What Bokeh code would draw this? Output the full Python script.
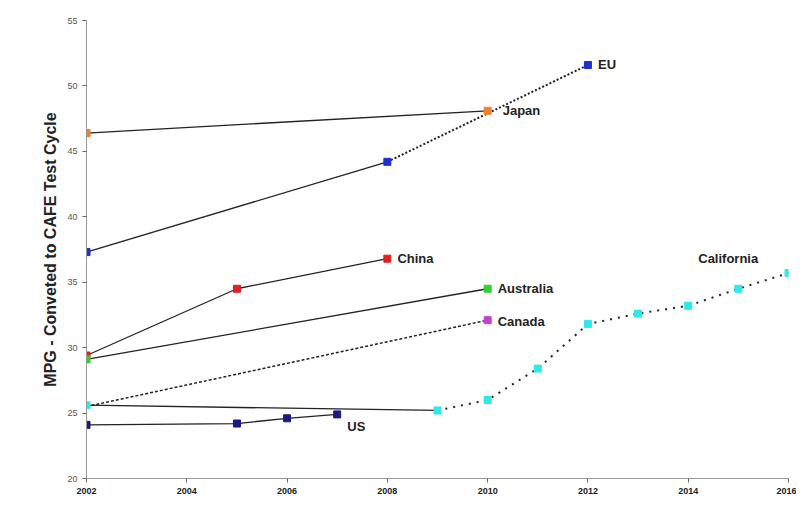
from bokeh.plotting import figure
from bokeh.models import Range1d, FixedTicker
from bokeh.core.properties import value
from bokeh.embed import file_html
from bokeh.resources import INLINE

jp_x = [2002, 2010]; jp_y = [46.4, 48.1]
eu_x = [2002, 2008]; eu_y = [37.3, 44.2]
eu_fx = [2008, 2012]; eu_fy = [44.2, 51.6]
cn_x = [2002, 2005, 2008]; cn_y = [29.4, 34.5, 36.8]
au_x = [2002, 2010]; au_y = [29.1, 34.5]
ca_x = [2002, 2010]; ca_y = [25.5, 32.1]
cal_x = [2002, 2009]; cal_y = [25.6, 25.2]
cal_fx = [2009, 2010, 2011, 2012, 2013, 2014, 2015, 2016]
cal_fy = [25.2, 26.0, 28.4, 31.8, 32.6, 33.2, 34.5, 35.7]
us_x = [2002, 2005, 2006, 2007]; us_y = [24.1, 24.2, 24.6, 24.9]

p = figure(width=796, height=496, output_backend="svg", toolbar_location=None,
           x_range=Range1d(2002, 2016), y_range=Range1d(20, 55),
           min_border_left=86, min_border_top=20, min_border_right=8, min_border_bottom=6)
p.outline_line_color = None
p.grid.visible = False
p.xaxis.ticker = FixedTicker(ticks=list(range(2002, 2017, 2)))
p.yaxis.ticker = FixedTicker(ticks=list(range(20, 56, 5)))
for ax in (p.xaxis, p.yaxis):
    ax.axis_line_color = "#999999"
    ax.major_tick_line_color = "#666666"
    ax.minor_tick_line_color = None
    ax.major_tick_in = 0
    ax.major_tick_out = 4
    ax.major_label_text_font = "Liberation Sans"
    ax.major_label_text_font_size = "9px"
    ax.major_label_text_color = "#555555"
p.xaxis.major_label_text_font_style = "bold"
p.xaxis.major_label_text_color = "#222222"
p.yaxis.axis_label = "MPG - Conveted to CAFE Test Cycle"
p.yaxis.axis_label_text_font = "Liberation Sans"
p.yaxis.axis_label_text_font_style = "bold"
p.yaxis.axis_label_text_font_size = "16px"
p.yaxis.axis_label_text_color = "#222222"

lc = "#222222"
p.line(jp_x, jp_y, line_color=lc, line_width=1.3)
p.line(eu_x, eu_y, line_color=lc, line_width=1.3)
p.line(eu_fx, eu_fy, line_color=lc, line_width=2, line_dash="2 2")
p.line(cn_x, cn_y, line_color=lc, line_width=1.3)
p.line(au_x, au_y, line_color=lc, line_width=1.3)
p.line(ca_x, ca_y, line_color=lc, line_width=1.5, line_dash="3 2")
p.line(cal_x, cal_y, line_color=lc, line_width=1.3)
p.line(cal_fx, cal_fy, line_color=lc, line_width=2, line_dash="2 6")
p.line(us_x, us_y, line_color=lc, line_width=1.3)

def pts(x, y, c):
    p.scatter(x, y, marker="square", size=7, fill_color=c, line_color=c)

pts(jp_x, jp_y, "#f07f30")
pts(eu_x + eu_fx[1:], eu_y + eu_fy[1:], "#1f2fd0")
pts(cn_x, cn_y, "#e02020")
pts(au_x, au_y, "#30d030")
pts(ca_x[1:], ca_y[1:], "#c040d0")
pts(cal_x + cal_fx[1:], cal_y + cal_fy[1:], "#30e8e8")
pts(us_x, us_y, "#1a1a80")

lab_x = [2012.2, 2010.3, 2008.2, 2010.2, 2010.2, 2014.2, 2007.2]
lab_y = [51.6, 48.1, 36.8, 34.5, 32.0, 36.8, 24.0]
lab_t = ["EU", "Japan", "China", "Australia", "Canada", "California", "US"]
p.text(lab_x, lab_y, text=lab_t, text_baseline="middle", text_font_size="13px",
       text_font_style="bold", text_color="#222222", text_font=value("Liberation Sans"))

open("out.html", "w").write(file_html(p, INLINE))
